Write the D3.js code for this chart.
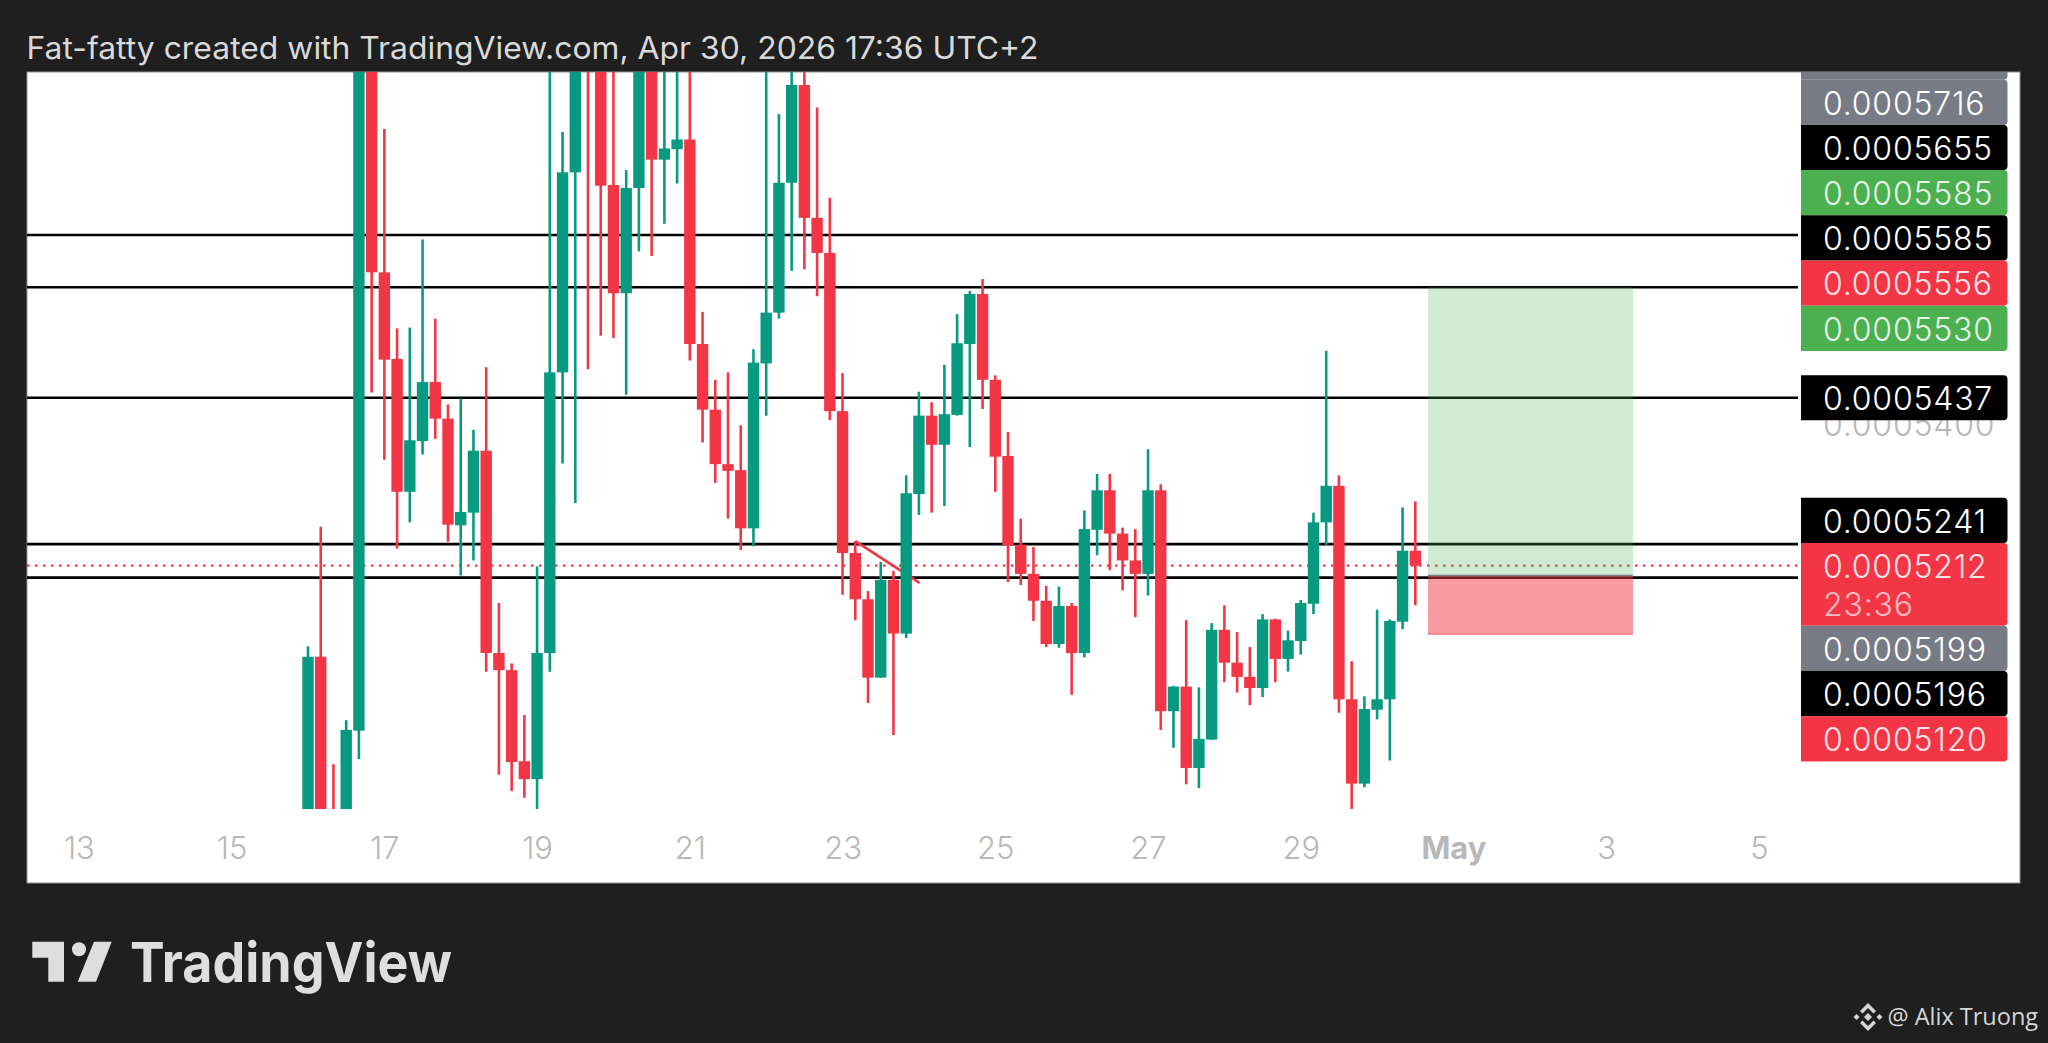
<!DOCTYPE html>
<html>

<head>
  <title>Price chart</title>
  <script src="https://d3js.org/d3.v7.min.js"></script>
  <style>
    html, body {
      margin: 0;
      background: #1f1f1f;
    }

    svg {
      display: block;
    }

    .uiText {
      font-family: Inter, "Noto Sans", sans-serif;
    }

    .priceFont {
      font-family: Inter, "Noto Sans", sans-serif;
      font-size: 32px;
      font-weight: 300;
      letter-spacing: 0.8px;
    }
  </style>
</head>

<body>
  <svg id="chart" width="2048" height="1043"></svg>

  <script>
    // prices are in units of 0.0000001, one entry per 4h bar
    const opens = [4871, 5090, 4878, 4871, 4991, 5903, 5605, 5489, 5311, 5379, 5458, 5409, 5266, 5283, 5366, 5095, 5072, 4950, 4926, 5095, 5471, 5739, 5903, 5903, 5722, 5577, 5718, 5903, 5756, 5770, 5783, 5509, 5421, 5348, 5340, 5262, 5483, 5551, 5725, 5856, 5678, 5631, 5419, 5229, 5167, 5062, 5193, 5121, 5308, 5413, 5374, 5414, 5509, 5576, 5461, 5359, 5240, 5201, 5165, 5107, 5158, 5095, 5260, 5313, 5255, 5219, 5201, 5313, 5017, 5050, 4941, 4979, 5126, 5082, 5063, 5048, 5140, 5087, 5111, 5161, 5270, 5319, 5033, 4920, 5019, 5033, 5137, 5232];
    const highs = [5104, 5264, 4946, 5005, 5916, 5916, 5797, 5530, 5531, 5649, 5543, 5428, 5436, 5394, 5478, 5162, 5081, 5012, 5211, 5916, 5793, 5916, 5916, 5916, 5916, 5742, 5916, 5916, 5916, 5916, 5916, 5552, 5461, 5471, 5400, 5502, 5916, 5817, 5916, 5916, 5826, 5705, 5470, 5245, 5178, 5217, 5205, 5333, 5445, 5431, 5481, 5549, 5580, 5596, 5467, 5391, 5275, 5237, 5185, 5184, 5162, 5286, 5335, 5335, 5263, 5261, 5368, 5321, 5051, 5139, 5049, 5135, 5159, 5123, 5103, 5147, 5141, 5125, 5166, 5283, 5500, 5333, 5084, 5037, 5153, 5140, 5290, 5298];
    const lows = [4858, 4858, 4844, 4858, 4953, 5444, 5354, 5235, 5270, 5361, 5382, 5244, 5199, 5219, 5070, 4932, 4910, 4901, 4886, 5070, 5349, 5296, 5475, 5520, 5517, 5441, 5633, 5627, 5670, 5724, 5487, 5377, 5323, 5275, 5233, 5238, 5413, 5543, 5607, 5609, 5573, 5407, 5173, 5139, 5028, 5062, 4985, 5115, 5280, 5283, 5292, 5413, 5371, 5422, 5311, 5190, 5186, 5138, 5103, 5102, 5039, 5089, 5226, 5206, 5179, 5143, 5172, 4992, 4968, 4919, 4914, 4979, 5056, 5042, 5025, 5036, 5056, 5070, 5093, 5147, 5240, 5015, 4886, 4915, 5006, 4951, 5127, 5159];
    const closes = [5090, 4871, 4858, 4992, 5903, 5605, 5488, 5311, 5380, 5458, 5409, 5267, 5284, 5366, 5095, 5072, 4949, 4926, 5095, 5471, 5739, 5903, 5890, 5721, 5577, 5718, 5903, 5756, 5771, 5783, 5509, 5421, 5348, 5339, 5262, 5484, 5551, 5725, 5856, 5678, 5631, 5419, 5229, 5167, 5062, 5193, 5121, 5309, 5413, 5374, 5415, 5510, 5576, 5461, 5358, 5239, 5201, 5165, 5107, 5158, 5095, 5261, 5313, 5255, 5219, 5201, 5313, 5017, 5050, 4941, 4980, 5126, 5082, 5063, 5048, 5140, 5087, 5112, 5162, 5270, 5319, 5033, 4920, 5020, 5033, 5138, 5232, 5212];

    const tickBars = [-18, -6, 6, 18, 30, 42, 54, 66, 78, 90, 102, 114];
    const tickLabels = ["13", "15", "17", "19", "21", "23", "25", "27", "29", "May", "3", "5"];

    const levelPrices = [5655, 5585, 5437, 5241, 5196];
    const lastPrice = 5212;
    const axisPrices = [5400];

    const labelValues = [5716, 5655, 5585, 5585, 5556, 5530, 5437, 5241, 5212, 5199, 5196, 5120];
    const labelKinds = ["grey", "black", "green", "black", "red", "green", "black", "black", "red", "grey", "black", "red"];
    // 0 = sits on its price, -1 = pushed up by the label below, 1 = pushed down by the label above
    const labelPush = [-1, -1, -1, -1, -1, 0, 0, -1, 0, 1, 1, 1];

    const trendBars = [43, 48.05];
    const trendPrices = [5245, 5189];

    const positionBars = [88, 104.1];
    const positionPrices = [5585, 5199, 5120];

    const countdown = "23:36";
    const titleText = "Fat-fatty created with TradingView.com, Apr 30, 2026 17:36 UTC+2";

    const green = "#089981";
    const red = "#F23645";
    const kindFill = { grey: "#787B86", black: "#000000", green: "#4CAF50", red: "#F23645" };
    const kindText = { grey: "#ffffff", black: "#ffffff", green: "#e6f4e7", red: "#fde3e5" };

    const svg = d3.select("#chart");

    const pane = { left: 27, right: 2020, top: 72, bottom: 883 };
    const plotRight = 1798;
    const plotBottom = 809;
    const labelLeft = 1801;
    const labelRight = 2007.5;
    const labelHeight = 45.2;
    const labelText = 1823;

    const x = d3.scaleLinear().domain([0, 87]).range([308, 1415.3]);
    const y = d3.scaleLinear().domain([4886, 5873.4]).range([plotBottom, pane.top]);
    const price = v => (v / 1e7).toFixed(7);

    svg.append("rect")
      .attr("width", 2048)
      .attr("height", 1043)
      .attr("fill", "#1f1f1f");

    svg.append("rect")
      .attr("x", pane.left)
      .attr("y", pane.top)
      .attr("width", pane.right - pane.left)
      .attr("height", pane.bottom - pane.top)
      .attr("fill", "#ffffff")
      .attr("stroke", "#8f8f8f")
      .attr("stroke-width", 1);

    const defs = svg.append("defs");
    defs.append("clipPath").attr("id", "plotClip")
      .append("rect")
      .attr("x", pane.left)
      .attr("y", pane.top)
      .attr("width", plotRight - pane.left)
      .attr("height", plotBottom - pane.top);
    defs.append("clipPath").attr("id", "scaleClip")
      .append("rect")
      .attr("x", plotRight)
      .attr("y", pane.top)
      .attr("width", pane.right - plotRight)
      .attr("height", pane.bottom - pane.top);

    const plot = svg.append("g").attr("clip-path", "url(#plotClip)");

    // horizontal levels
    plot.selectAll(".level")
      .data(levelPrices)
      .join("line")
      .attr("class", "level")
      .attr("x1", pane.left)
      .attr("x2", plotRight)
      .attr("y1", d => y(d))
      .attr("y2", d => y(d))
      .attr("stroke", "#000000")
      .attr("stroke-width", 2.7);

    // last price
    plot.append("line")
      .attr("x1", pane.left)
      .attr("x2", plotRight)
      .attr("y1", y(lastPrice))
      .attr("y2", y(lastPrice))
      .attr("stroke", red)
      .attr("stroke-width", 2.4)
      .attr("stroke-dasharray", "2.5 5.5");

    // long position box
    plot.append("rect")
      .attr("x", x(positionBars[0]))
      .attr("y", y(positionPrices[0]))
      .attr("width", x(positionBars[1]) - x(positionBars[0]))
      .attr("height", y(positionPrices[1]) - y(positionPrices[0]))
      .attr("fill", "#4CAF50")
      .attr("fill-opacity", 0.26);

    plot.append("rect")
      .attr("x", x(positionBars[0]))
      .attr("y", y(positionPrices[1]))
      .attr("width", x(positionBars[1]) - x(positionBars[0]))
      .attr("height", y(positionPrices[2]) - y(positionPrices[1]))
      .attr("fill", red)
      .attr("fill-opacity", 0.5);

    plot.append("line")
      .attr("x1", x(positionBars[0]))
      .attr("x2", x(positionBars[1]))
      .attr("y1", y(positionPrices[1]))
      .attr("y2", y(positionPrices[1]))
      .attr("stroke", "#787B86")
      .attr("stroke-width", 1.5);

    plot.append("line")
      .attr("x1", x(positionBars[0]))
      .attr("x2", x(positionBars[1]))
      .attr("y1", y(positionPrices[2]))
      .attr("y2", y(positionPrices[2]))
      .attr("stroke", red)
      .attr("stroke-opacity", 0.45)
      .attr("stroke-width", 1.5);

    // trend line
    plot.append("line")
      .attr("x1", x(trendBars[0]))
      .attr("x2", x(trendBars[1]))
      .attr("y1", y(trendPrices[0]))
      .attr("y2", y(trendPrices[1]))
      .attr("stroke", red)
      .attr("stroke-width", 2.6);

    // candles
    const candles = opens.map((open, i) => ({ i, open, high: highs[i], low: lows[i], close: closes[i] }));
    const candleColor = d => d.close >= d.open ? green : red;
    const bodyWidth = 11.4;

    plot.selectAll(".wick")
      .data(candles)
      .join("line")
      .attr("class", "wick")
      .attr("x1", d => x(d.i))
      .attr("x2", d => x(d.i))
      .attr("y1", d => y(d.high))
      .attr("y2", d => y(d.low))
      .attr("stroke", candleColor)
      .attr("stroke-width", 2.6);

    plot.selectAll(".body")
      .data(candles)
      .join("rect")
      .attr("class", "body")
      .attr("x", d => x(d.i) - bodyWidth / 2)
      .attr("y", d => y(Math.max(d.open, d.close)))
      .attr("width", bodyWidth)
      .attr("height", d => Math.abs(y(d.open) - y(d.close)))
      .attr("fill", candleColor);

    // time axis
    const timeAxis = svg.append("g")
      .attr("transform", `translate(0,${pane.bottom - 40})`)
      .call(d3.axisBottom(x).tickValues(tickBars).tickFormat((d, i) => tickLabels[i]).tickSize(0));
    timeAxis.select(".domain").remove();
    timeAxis.selectAll("text")
      .attr("y", 0)
      .attr("dy", "0.5em")
      .attr("fill", "#b8b8b8")
      .style("font-family", "Inter, sans-serif")
      .style("font-size", "31px")
      .style("font-weight", (d, i) => tickLabels[i] === "May" ? 700 : 300);

    // price scale
    const scale = svg.append("g").attr("clip-path", "url(#scaleClip)");

    const priceAxis = scale.append("g")
      .attr("transform", `translate(${labelText},0)`)
      .call(d3.axisRight(y).tickValues(axisPrices).tickFormat(price).tickSize(0).tickPadding(0));
    priceAxis.select(".domain").remove();
    priceAxis.selectAll("text")
      .attr("class", "priceFont")
      .attr("fill", "#b8b8b8");

    // price labels push each other apart so they never overlap
    const labelHeights = labelValues.map(v => v === lastPrice ? 82.8 : labelHeight);
    const labelTops = labelValues.map(v => y(v) - labelHeight / 2);
    for (let i = labelValues.length - 2; i >= 0; i--) {
      if (labelPush[i] === -1) labelTops[i] = Math.min(labelTops[i], labelTops[i + 1] - labelHeights[i]);
    }
    for (let i = 1; i < labelValues.length; i++) {
      if (labelPush[i] === 1) labelTops[i] = Math.max(labelTops[i], labelTops[i - 1] + labelHeights[i - 1]);
    }

    const labels = labelValues.map((v, i) => ({
      value: v,
      kind: labelKinds[i],
      top: labelTops[i],
      height: labelHeights[i]
    }));

    const labelShape = d => {
      const r = 4;
      const path = d3.path();
      path.moveTo(labelLeft, d.top);
      path.lineTo(labelRight - r, d.top);
      path.quadraticCurveTo(labelRight, d.top, labelRight, d.top + r);
      path.lineTo(labelRight, d.top + d.height - r);
      path.quadraticCurveTo(labelRight, d.top + d.height, labelRight - r, d.top + d.height);
      path.lineTo(labelLeft, d.top + d.height);
      path.closePath();
      return path.toString();
    };

    // another grey label sits behind the top one and runs off the pane
    scale.append("path")
      .attr("d", labelShape({ top: labels[0].top - labelHeight, height: labelHeight }))
      .attr("fill", kindFill.grey);

    scale.selectAll(".priceLabel")
      .data(labels)
      .join("path")
      .attr("class", "priceLabel")
      .attr("d", labelShape)
      .attr("fill", d => kindFill[d.kind]);

    scale.selectAll(".priceText")
      .data(labels)
      .join("text")
      .attr("class", "priceFont")
      .attr("x", labelText)
      .attr("y", d => d.top + labelHeight / 2 + 0.8)
      .attr("dy", "0.36em")
      .attr("fill", d => kindText[d.kind])
      .text(d => price(d.value));

    scale.append("text")
      .attr("class", "priceFont")
      .attr("x", labelText)
      .attr("y", labels[labelValues.indexOf(lastPrice)].top + 61.5)
      .attr("dy", "0.36em")
      .attr("fill", "#ffffff")
      .attr("fill-opacity", 0.68)
      .text(countdown);

    // header
    svg.append("text")
      .attr("class", "uiText")
      .attr("x", 26.5)
      .attr("y", 59)
      .attr("fill", "#d9d9d9")
      .attr("font-size", 30.5)
      .attr("textLength", 1012)
      .attr("lengthAdjust", "spacingAndGlyphs")
      .text(titleText);

    // TradingView mark
    const logo = svg.append("g").attr("fill", "#dedede");
    logo.append("polygon").attr("points", "32.3,941.7 64,941.7 64,981.7 48.3,981.7 48.3,957.7 32.3,957.7");
    logo.append("circle").attr("cx", 79).attr("cy", 949.3).attr("r", 7);
    logo.append("polygon").attr("points", "94,941.7 111.7,941.7 96,981.7 77.7,981.7");
    logo.append("text")
      .attr("class", "uiText")
      .attr("x", 130)
      .attr("y", 981.7)
      .attr("font-size", 55)
      .attr("font-weight", 700)
      .attr("textLength", 322)
      .attr("lengthAdjust", "spacingAndGlyphs")
      .text("TradingView");

    // watermark
    const mark = svg.append("g").attr("fill", "#d6d6d6").attr("transform", "translate(1868,1017)");
    mark.append("polygon").attr("points", "0,-4 4,0 0,4 -4,0");
    mark.append("polygon").attr("points", "-11.5,-3 -8.5,0 -11.5,3 -14.5,0");
    mark.append("polygon").attr("points", "11.5,-3 14.5,0 11.5,3 8.5,0");
    mark.append("polygon").attr("points", "0,-14 8,-6 5.5,-3.5 0,-9 -5.5,-3.5 -8,-6");
    mark.append("polygon").attr("points", "0,14 8,6 5.5,3.5 0,9 -5.5,3.5 -8,6");

    svg.append("text")
      .attr("x", 1887.5)
      .attr("y", 1025)
      .attr("fill", "#d6d6d6")
      .attr("font-family", "'Open Sans', 'Noto Sans', sans-serif")
      .attr("font-size", 23.5)
      .text("@ Alix Truong");
  </script>
</body>

</html>
